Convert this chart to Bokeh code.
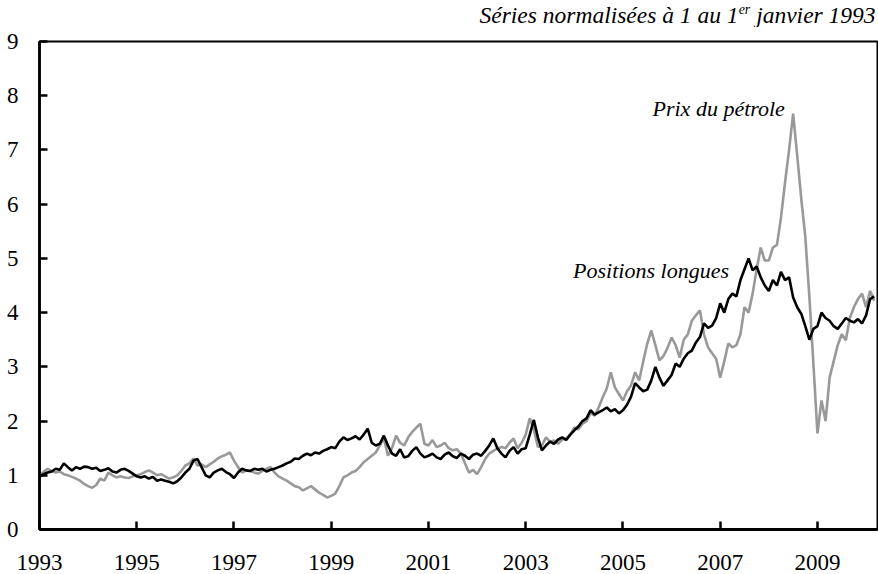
import pandas as pd
from bokeh.plotting import figure
from bokeh.layouts import column
from bokeh.models import FixedTicker, Label, Range1d, ColumnDataSource
from bokeh.embed import file_html
from bokeh.resources import INLINE

# Monthly series, normalised to 1 on 1 January 1993 (first value = Jan 1993)
start_month = "1993-01-01"

long_positions = [
    0.97, 1.02, 1.05, 1.07, 1.12, 1.10, 1.22, 1.15, 1.09, 1.15, 1.12, 1.16,  # 1993
    1.15, 1.12, 1.14, 1.08, 1.10, 1.13, 1.07, 1.05, 1.10, 1.12, 1.08, 1.03,  # 1994
    0.98, 0.96, 0.98, 0.94, 0.97, 0.90, 0.92, 0.90, 0.88, 0.85, 0.89, 0.96,  # 1995
    1.05, 1.12, 1.27, 1.30, 1.15, 1.00, 0.96, 1.05, 1.09, 1.12, 1.06, 1.02,  # 1996
    0.95, 1.05, 1.12, 1.09, 1.08, 1.12, 1.10, 1.12, 1.07, 1.10, 1.12, 1.15,  # 1997
    1.18, 1.22, 1.25, 1.31, 1.30, 1.36, 1.40, 1.37, 1.42, 1.40, 1.45, 1.48,  # 1998
    1.52, 1.50, 1.62, 1.70, 1.65, 1.68, 1.72, 1.66, 1.75, 1.86, 1.60, 1.55,  # 1999
    1.58, 1.73, 1.55, 1.40, 1.36, 1.48, 1.33, 1.35, 1.45, 1.52, 1.40, 1.33,  # 2000
    1.36, 1.40, 1.33, 1.30, 1.38, 1.42, 1.35, 1.32, 1.40, 1.36, 1.30, 1.38,  # 2001
    1.40, 1.36, 1.45, 1.55, 1.68, 1.50, 1.40, 1.33, 1.45, 1.52, 1.40, 1.48,  # 2002
    1.50, 1.75, 2.02, 1.70, 1.46, 1.55, 1.62, 1.58, 1.66, 1.70, 1.65, 1.75,  # 2003
    1.83, 1.90, 2.00, 2.05, 2.20, 2.12, 2.16, 2.20, 2.25, 2.18, 2.22, 2.14,  # 2004
    2.20, 2.30, 2.45, 2.70, 2.62, 2.55, 2.58, 2.75, 3.00, 2.80, 2.65, 2.75,  # 2005
    2.85, 3.06, 3.00, 3.15, 3.25, 3.30, 3.45, 3.55, 3.80, 3.72, 3.76, 3.90,  # 2006
    4.17, 4.00, 4.25, 4.35, 4.30, 4.60, 4.80, 5.00, 4.78, 4.85, 4.65, 4.50,  # 2007
    4.40, 4.60, 4.50, 4.75, 4.60, 4.65, 4.28, 4.10, 3.98, 3.75, 3.50, 3.70,  # 2008
    3.75, 4.00, 3.90, 3.85, 3.75, 3.70, 3.80, 3.90, 3.85, 3.82, 3.88, 3.80,  # 2009
    3.95, 4.25, 4.30,                                                        # 2010
]

oil_price = [
    1.00, 1.06, 1.12, 1.08, 1.05, 1.07, 1.02, 1.00, 0.97, 0.94, 0.90, 0.84,  # 1993
    0.80, 0.77, 0.82, 0.94, 0.90, 1.05, 1.00, 0.96, 0.98, 0.96, 0.95, 0.98,  # 1994
    1.00, 1.02, 1.06, 1.09, 1.05, 1.00, 1.02, 0.98, 0.94, 0.96, 1.00, 1.08,  # 1995
    1.18, 1.22, 1.31, 1.18, 1.20, 1.15, 1.20, 1.25, 1.31, 1.35, 1.38, 1.42,  # 1996
    1.27, 1.15, 1.05, 1.09, 1.08, 1.05, 1.03, 1.08, 1.12, 1.15, 1.05, 0.98,  # 1997
    0.94, 0.90, 0.85, 0.80, 0.78, 0.72, 0.76, 0.80, 0.74, 0.68, 0.64, 0.59,  # 1998
    0.62, 0.66, 0.80, 0.96, 1.00, 1.05, 1.08, 1.15, 1.24, 1.30, 1.36, 1.42,  # 1999
    1.55, 1.68, 1.36, 1.50, 1.73, 1.60, 1.55, 1.70, 1.80, 1.88, 1.95, 1.58,  # 2000
    1.55, 1.65, 1.52, 1.55, 1.60, 1.50, 1.46, 1.48, 1.40, 1.22, 1.05, 1.10,  # 2001
    1.02, 1.15, 1.30, 1.40, 1.45, 1.49, 1.52, 1.50, 1.60, 1.68, 1.50, 1.60,  # 2002
    1.75, 2.05, 1.85, 1.52, 1.55, 1.70, 1.62, 1.64, 1.58, 1.66, 1.68, 1.75,  # 2003
    1.88, 1.85, 1.95, 2.00, 2.15, 2.10, 2.25, 2.44, 2.60, 2.90, 2.62, 2.50,  # 2004
    2.38, 2.55, 2.66, 2.90, 2.75, 3.10, 3.43, 3.67, 3.40, 3.12, 3.20, 3.35,  # 2005
    3.54, 3.40, 3.17, 3.50, 3.60, 3.85, 3.95, 4.04, 3.60, 3.36, 3.25, 3.15,  # 2006
    2.80, 3.10, 3.43, 3.36, 3.40, 3.60, 4.10, 4.00, 4.35, 4.80, 5.20, 4.96,  # 2007
    4.96, 5.20, 5.25, 5.75, 6.40, 7.00, 7.67, 6.90, 6.10, 5.40, 4.30, 3.06,  # 2008
    1.77, 2.38, 2.00, 2.80, 3.10, 3.40, 3.60, 3.49, 3.90, 4.10, 4.25, 4.35,  # 2009
    4.10, 4.40, 4.22,                                                        # 2010
]

x_tick_years = [1993, 1995, 1997, 1999, 2001, 2003, 2005, 2007, 2009]
x_tick_labels = ["1993", "1995", "1997", "1999", "2001", "2003", "2005", "2007", "2009"]
y_ticks = [0, 1, 2, 3, 4, 5, 6, 7, 8, 9]
y_tick_labels = ["0", "1", "2", "3", "4", "5", "6", "7", "8", "9"]

title_main = "Séries normalisées à 1 au 1"
title_sup = "er"
title_end = "janvier 1993"
label_oil = "Prix du pétrole"
label_long = "Positions longues"

dates = pd.date_range(start_month, periods=len(oil_price), freq="MS")
t = list(dates.year + (dates.month - 1) / 12.0)

src = ColumnDataSource(dict(t=t, oil=oil_price, longp=long_positions))

FONT = "Liberation Serif"
W = 878
TITLE_H = 27
MAIN_H = 574 - TITLE_H

# ---- title strip (text with a superscript) ----
tf = figure(width=W, height=TITLE_H, x_range=Range1d(0, W), y_range=Range1d(0, TITLE_H),
            output_backend="svg", toolbar_location=None, min_border=0)
tf.axis.visible = False
tf.grid.visible = False
tf.outline_line_color = None
tf.background_fill_color = "white"
tf.border_fill_color = "white"


def add_label(fig, x, y, text, size_px, x_off=0, y_off=0):
    # small upward correction of the alphabetic baseline (measured ~0.28 em)
    corr = 0.28 * size_px
    fig.add_layout(Label(x=x, y=y, text=text, x_offset=x_off, y_offset=y_off + corr,
                         text_font=FONT, text_font_style="italic",
                         text_font_size=f"{size_px}px", text_color="black",
                         text_align="right", text_baseline="alphabetic"))


w_end = 125.3   # width of " janvier 1993" at 23.5px
w_sup = 11.7    # width of "er" at 14px
add_label(tf, 876, 5.6, title_end, 23.5)
add_label(tf, 876, 5.6, title_sup, 14, x_off=-w_end, y_off=8)
add_label(tf, 876, 5.6, title_main, 23.5, x_off=-(w_end + w_sup))

# ---- main chart ----
p = figure(width=W, height=MAIN_H,
           x_range=Range1d(1993, 2010.235), y_range=Range1d(0, 9),
           output_backend="svg", toolbar_location=None,
           min_border_left=39, min_border_right=1,
           min_border_top=14, min_border_bottom=45)

p.background_fill_color = "white"
p.border_fill_color = "white"
p.outline_line_color = "black"
p.outline_line_width = 2
p.xgrid.visible = False
p.ygrid.visible = False

p.line("t", "oil", source=src, line_color="#999999", line_width=2.6)
p.line("t", "longp", source=src, line_color="black", line_width=2.6)

p.xaxis.ticker = FixedTicker(ticks=x_tick_years)
p.xaxis.major_label_overrides = {y: s for y, s in zip(x_tick_years, x_tick_labels)}
p.yaxis.ticker = FixedTicker(ticks=y_ticks)
p.yaxis.major_label_overrides = {y: s for y, s in zip(y_ticks, y_tick_labels)}
for ax in (p.xaxis, p.yaxis):
    ax.axis_line_width = 2.8
    ax.axis_line_color = "black"
    ax.major_tick_line_width = 2.5
    ax.major_tick_line_color = "black"
    ax.major_tick_in = 8
    ax.major_tick_out = 0
    ax.minor_tick_line_color = None
    ax.major_label_text_font = FONT
    ax.major_label_text_font_size = "23px"
    ax.major_label_text_color = "black"
p.xaxis.major_label_standoff = 25
p.yaxis.major_label_standoff = 21

add_label(p, 2008.33, 7.65, label_oil, 22)
add_label(p, 2007.18, 4.67, label_long, 22)

layout = column(tf, p, spacing=0)
open("out.html", "w").write(file_html(layout, INLINE))
